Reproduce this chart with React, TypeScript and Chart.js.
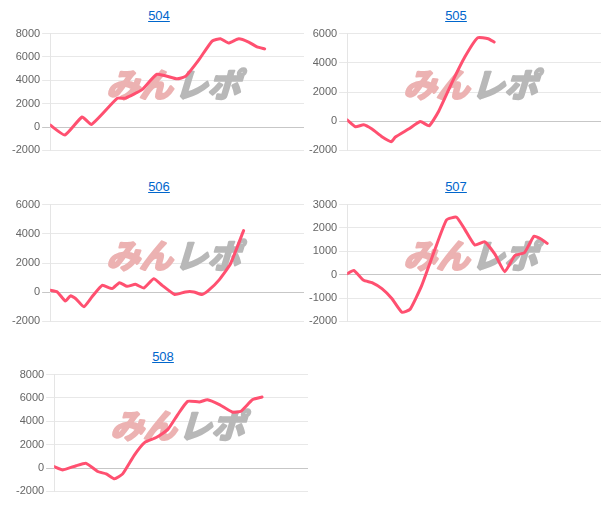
import React, { useEffect, useRef } from "react";
import { Chart, registerables } from "chart.js";

Chart.register(...registerables);

// Machine numbers (chart titles)
const titles = ["504", "505", "506", "507", "508"];

// x = progress through the day (0-100 of the axis), y = medal difference
const x504 = [0, 5.8, 12.6, 16.3, 26.4, 29.7, 36.2, 42.1, 50, 53.3, 58.5, 63.8, 67.1, 70.3, 74.3, 78.2, 81.5, 84.5];
const y504 = [170, -680, 860, 220, 2450, 2480, 3200, 4520, 4130, 4330, 5730, 7360, 7560, 7190, 7560, 7280, 6860, 6690];

const x505 = [0, 3.3, 6.5, 9.8, 13.7, 17.4, 18.9, 24.2, 28.8, 32.3, 35.9, 41.2, 46.4, 51.4, 55.6, 57.9];
const y505 = [90, -380, -250, -540, -1060, -1400, -1100, -540, -20, -315, 630, 2610, 4410, 5710, 5650, 5420];

const x506 = [0, 2.8, 6.0, 8.0, 10.0, 13.3, 16.5, 20.5, 24.4, 27.3, 30.3, 33.6, 36.9, 40.8, 44.1, 49.1, 53.3, 56.6, 59.8, 62.5, 66.4, 71.0, 76.2];
const y506 = [135, 20, -600, -250, -430, -990, -315, 470, 250, 650, 400, 540, 290, 920, 470, -160, 20, 20, -160, 135, 810, 1930, 4220];

const x507 = [0, 2.6, 6.5, 9.8, 13.7, 17.6, 21.6, 24.8, 29.4, 34.6, 39.2, 43.1, 46.4, 50.3, 54.2, 58.2, 62.1, 66.0, 69.9, 73.6, 76.2, 78.8];
const y507 = [40, 180, -240, -340, -600, -1020, -1610, -1480, -460, 1090, 2350, 2460, 1930, 1270, 1410, 880, 130, 810, 950, 1650, 1540, 1340];

const x508 = [0, 3.4, 8.7, 12.6, 17.2, 20.5, 23.8, 27.0, 31.6, 35.6, 40.2, 44.8, 48.7, 52.6, 57.2, 60.4, 65.1, 70.3, 73.6, 78.2, 81.9];
const y508 = [120, -160, 200, 400, -300, -500, -920, -500, 1110, 2180, 2610, 3310, 4580, 5710, 5660, 5850, 5430, 4780, 4870, 5860, 6080];

// y-axis ranges per chart
const yMin = [-2000, -2000, -2000, -2000, -2000];
const yMax = [8000, 6000, 6000, 3000, 8000];
const yStep = [2000, 2000, 2000, 1000, 2000];

const xs = [x504, x505, x506, x507, x508];
const ys = [y504, y505, y506, y507, y508];

const LINE_COLOR = "rgb(255, 80, 112)";

const watermark = {
  id: "watermark",
  beforeDatasetsDraw(chart: any) {
    const { ctx, chartArea: a } = chart;
    const cx = (a.left + a.right) / 2;
    const cy = (a.top + a.bottom) / 2 - 8;
    ctx.save();
    ctx.font = "bold 33px 'Noto Sans CJK JP'";
    ctx.textBaseline = "middle";
    ctx.lineJoin = "round";
    ctx.lineWidth = 2.5;
    const t1 = "みん";
    const t2 = "レポ";
    const w1 = ctx.measureText(t1).width;
    const w2 = ctx.measureText(t2).width;
    const gap = 2;
    const total = w1 + w2 + gap;
    ctx.translate(cx, cy);
    ctx.transform(1, 0, -0.3, 1, 0, 0);
    ctx.fillStyle = "rgb(236, 178, 178)";
    ctx.strokeStyle = "rgb(236, 178, 178)";
    ctx.strokeText(t1, -total / 2, 0);
    ctx.fillText(t1, -total / 2, 0);
    ctx.fillStyle = "rgb(184, 184, 184)";
    ctx.strokeStyle = "rgb(184, 184, 184)";
    ctx.strokeText(t2, -total / 2 + w1 + gap, 0);
    ctx.fillText(t2, -total / 2 + w1 + gap, 0);
    ctx.restore();
  },
};

type Box = { left: number; top: number; width: number; height: number; tcx: number; tcy: number };

const boxes: Box[] = [
  { left: 10, top: 25, width: 294, height: 134, tcx: 159, tcy: 16 },
  { left: 307, top: 25, width: 294, height: 134, tcx: 456, tcy: 16 },
  { left: 10, top: 196, width: 294, height: 134, tcx: 159, tcy: 187 },
  { left: 307, top: 196, width: 294, height: 134, tcx: 456, tcy: 187 },
  { left: 14, top: 366, width: 294, height: 134, tcx: 163, tcy: 357 },
];

function MiniChart({ idx }: { idx: number }) {
  const ref = useRef<HTMLCanvasElement | null>(null);
  useEffect(() => {
    if (!ref.current) return;
    const pts = xs[idx].map((x, i) => ({ x, y: ys[idx][i] }));
    const chart = new Chart(ref.current, {
      type: "line",
      data: {
        datasets: [
          {
            data: pts,
            borderColor: LINE_COLOR,
            backgroundColor: LINE_COLOR,
            borderWidth: 3,
            pointRadius: 0,
            tension: 0.15,
            fill: false,
            borderJoinStyle: "round",
            borderCapStyle: "round",
          },
        ],
      },
      options: {
        animation: false,
        responsive: false,
        maintainAspectRatio: false,
        layout: { padding: 0 },
        plugins: { legend: { display: false }, tooltip: { enabled: false }, title: { display: false } },
        scales: {
          x: { type: "linear", min: 0, max: 100, display: false },
          y: {
            min: yMin[idx],
            max: yMax[idx],
            ticks: {
              stepSize: yStep[idx],
              color: "#666",
              font: { size: 11, family: "Arial, 'Liberation Sans', sans-serif" },
              padding: 2,
              callback: (v: any) => String(v),
            },
            grid: {
              color: (c: any) => (c.tick && c.tick.value === 0 ? "rgba(0,0,0,0.22)" : "rgba(0,0,0,0.09)"),
              tickLength: 8,
            },
            border: { color: "rgba(0,0,0,0.1)" },
          },
        },
      },
      plugins: [watermark],
    } as any);
    return () => chart.destroy();
  }, [idx]);
  const b = boxes[idx];
  return (
    <>
      <div
        style={{
          position: "absolute",
          left: b.tcx - 50,
          top: b.tcy - 8,
          width: 100,
          lineHeight: "16px",
          textAlign: "center",
          fontFamily: "Arial, 'Liberation Sans', sans-serif",
          fontSize: 13,
        }}
      >
        <a href="#" style={{ color: "#0066cc", textDecoration: "underline" }}>
          {titles[idx]}
        </a>
      </div>
      <canvas
        ref={ref}
        width={b.width}
        height={b.height}
        style={{ position: "absolute", left: b.left, top: b.top, width: b.width, height: b.height }}
      />
    </>
  );
}

export default function App() {
  return (
    <div style={{ position: "absolute", left: 0, top: 0, width: 607, height: 520, background: "#fff" }}>
      {titles.map((_, i) => (
        <MiniChart key={i} idx={i} />
      ))}
    </div>
  );
}
